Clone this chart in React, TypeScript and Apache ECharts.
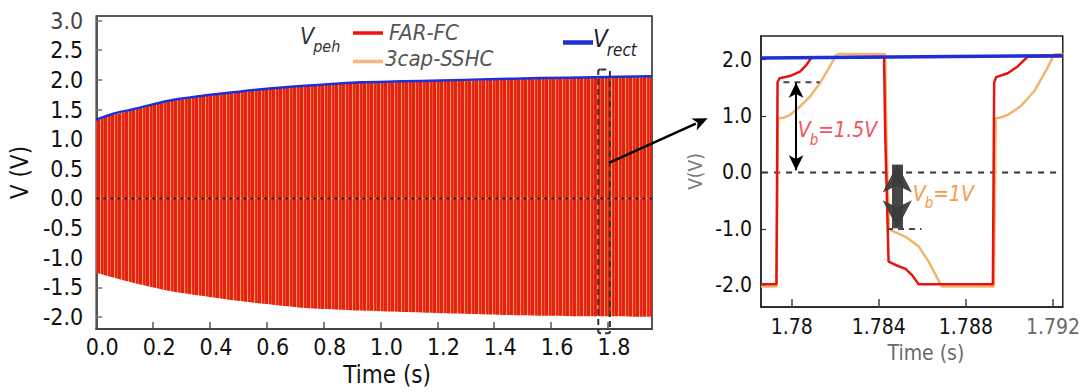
import React, { useEffect, useRef } from "react";
import * as echarts from "echarts";

// ---------- Left panel: full transient (envelope of the dense V_peh oscillation) ----------
const envTime = [0, 0.06, 0.13, 0.25, 0.37, 0.49, 0.6, 0.72, 0.84, 0.93, 1.08, 1.21, 1.38, 1.56, 1.75, 1.955];
const envTop = [1.31, 1.41, 1.49, 1.63, 1.72, 1.785, 1.84, 1.885, 1.925, 1.95, 1.965, 1.98, 2.0, 2.02, 2.035, 2.05];
const envBottom = [-1.25, -1.33, -1.42, -1.55, -1.64, -1.72, -1.78, -1.84, -1.87, -1.89, -1.915, -1.935, -1.955, -1.975, -1.985, -1.995];
const vrectLeft = [1.33, 1.43, 1.505, 1.645, 1.73, 1.795, 1.85, 1.895, 1.935, 1.96, 1.975, 1.99, 2.01, 2.03, 2.045, 2.06];
const xTicksLeft = [0, 0.2, 0.4, 0.6, 0.8, 1.0, 1.2, 1.4, 1.6, 1.8];
const yTicksLeft = [-2.0, -1.5, -1.0, -0.5, 0.0, 0.5, 1.0, 1.5, 2.0, 2.5, 3.0];

// ---------- Right panel: zoom 1.7786 s .. 1.7924 s ----------
const farT = [1.77859, 1.7793, 1.77935, 1.77944, 1.77992, 1.78038, 1.78068, 1.78091, 1.78424, 1.7843, 1.78445, 1.78477, 1.78523, 1.78553, 1.78583, 1.78924, 1.7893, 1.78939, 1.78992, 1.79038, 1.79083, 1.79245];
const farV = [-1.98, -1.98, 1.6, 1.67, 1.71, 1.79, 1.91, 2.04, 2.05, 0.6, -1.58, -1.64, -1.71, -1.82, -1.98, -1.98, 1.6, 1.69, 1.76, 1.88, 2.05, 2.06];
const sshcT = [1.77859, 1.7793, 1.77937, 1.77962, 1.77992, 1.78038, 1.78083, 1.78129, 1.78166, 1.78205, 1.7822, 1.78429, 1.78436, 1.78447, 1.78455, 1.78523, 1.78583, 1.78629, 1.78666, 1.78689, 1.78929, 1.78937, 1.78955, 1.78992, 1.79053, 1.79114, 1.79174, 1.79205, 1.79245];
const sshcV = [-2.02, -2.02, 0.96, 0.97, 1.02, 1.17, 1.34, 1.58, 1.82, 2.085, 2.1, 2.1, 0.5, -1.0, -1.02, -1.14, -1.31, -1.58, -1.85, -2.02, -2.02, 0.96, 0.97, 1.02, 1.18, 1.44, 1.85, 2.09, 2.1];
const vrectRightT = [1.77859, 1.79245];
const vrectRightV = [2.03, 2.07];
const xTicksRight = [1.78, 1.784, 1.788, 1.792];
const xTickLabelsRight = ["1.78", "1.784", "1.788", "1.792"];
const yTicksRight = [-2, -1, 0, 1, 2];

// annotation values
const vbHigh = { t: 1.7802, from: 0.04, to: 1.59, dashT: [1.77962, 1.78129], level: 1.6 };
const vbLow = { t: 1.78485, from: -0.99, to: 0.14, dashT: [1.78438, 1.78596], level: -1.0 };

const L = { xMin: 0, xMax: 1.955, yMin: -2.202, yMax: 3.077 };
const R = { xMin: 1.77859, xMax: 1.79245, yMin: -2.385, yMax: 2.42 };

const FONT = "'DejaVu Sans Condensed', 'DejaVu Sans', sans-serif";
const RED = "#e5140f";
const ORANGE = "#f2b56e";
const BLUE = "#1c2fd8";

let measureCtx: CanvasRenderingContext2D | null = null;
function textWidth(s: string, size: number, italic: boolean) {
  if (!measureCtx) measureCtx = document.createElement("canvas").getContext("2d");
  measureCtx!.font = `${italic ? "italic " : ""}${size}px ${FONT}`;
  return measureCtx!.measureText(s).width;
}

function makePattern() {
  const c = document.createElement("canvas");
  c.width = 7;
  c.height = 4;
  const ctx = c.getContext("2d")!;
  const cols = ["#e31f18", "#e31f18", "#f3a43e", "#e62a1c", "#e31f18", "#ee5236", "#e31f18"];
  cols.forEach((col, i) => {
    ctx.fillStyle = col;
    ctx.fillRect(i, 0, 1, 4);
  });
  return { image: c, repeat: "repeat", imageWidth: 7, imageHeight: 4 };
}

const zip = (a: number[], b: number[]) => a.map((x, i) => [x, b[i]]);

function buildOption() {
  const pattern = makePattern();
  return {
    animation: false,
    backgroundColor: "#ffffff",
    textStyle: { fontFamily: FONT },
    grid: [
      { left: 95, top: 16, width: 557, height: 316, show: true, borderColor: "#222", borderWidth: 1.5, backgroundColor: "transparent" },
      { left: 761, top: 36, width: 305, height: 271, show: true, borderColor: "#222", borderWidth: 1.5, backgroundColor: "transparent" },
    ],
    xAxis: [
      {
        type: "value", gridIndex: 0, min: L.xMin, max: L.xMax,
        axisLine: { show: true, onZero: false, lineStyle: { color: "#444", width: 2 } },
        axisTick: { show: true, inside: true, length: 7, customValues: xTicksLeft, lineStyle: { color: "#555", width: 1.5 } },
        axisLabel: { customValues: xTicksLeft, formatter: (v: number) => v.toFixed(1), fontSize: 23, color: "#111", fontFamily: FONT, margin: 6, padding: [0, 0, 0, 12] },
        splitLine: { show: false },
        name: "Time (s)", nameLocation: "middle", nameGap: 28,
        nameTextStyle: { fontSize: 24, color: "#111", fontFamily: FONT, padding: [0, 0, 0, 26] },
      },
      {
        type: "value", gridIndex: 1, min: R.xMin, max: R.xMax,
        axisLine: { show: true, onZero: false, lineStyle: { color: "#222", width: 1.5 } },
        axisTick: { show: true, inside: true, length: 8, customValues: xTicksRight, lineStyle: { color: "#444", width: 1.5 } },
        axisLabel: {
          customValues: xTicksRight,
          formatter: (v: number) => {
            const i = xTicksRight.findIndex((x) => Math.abs(x - v) < 1e-7);
            return i >= 0 ? xTickLabelsRight[i] : "";
          },
          color: (v: any) => (Math.abs(Number(v) - 1.792) < 1e-7 ? "#6a6a6a" : "#111"),
          fontSize: 21, fontFamily: FONT, margin: 9,
        },
        splitLine: { show: false },
        name: "Time (s)", nameLocation: "middle", nameGap: 35,
        nameTextStyle: { fontSize: 21, color: "#6a6a6a", fontFamily: FONT, padding: [0, 0, 0, 28] },
      },
    ],
    yAxis: [
      {
        type: "value", gridIndex: 0, min: L.yMin, max: L.yMax,
        axisLine: { show: true, onZero: false, lineStyle: { color: "#555", width: 2 } },
        axisTick: { show: true, inside: true, length: 6, customValues: yTicksLeft, lineStyle: { color: "#777", width: 1.5 } },
        axisLabel: {
          customValues: yTicksLeft, formatter: (v: number) => v.toFixed(1), fontSize: 23,
          color: (v: any) => (Number(v) > 2.9 ? "#444" : "#111"), fontFamily: FONT, margin: 13,
        },
        splitLine: { show: false },
        name: "V (V)", nameLocation: "middle", nameGap: 60, nameRotate: 90,
        nameTextStyle: { fontSize: 24, color: "#111", fontFamily: FONT },
      },
      {
        type: "value", gridIndex: 1, min: R.yMin, max: R.yMax,
        axisLine: { show: true, onZero: false, lineStyle: { color: "#222", width: 1.5 } },
        axisTick: { show: true, inside: true, length: 5, customValues: yTicksRight, lineStyle: { color: "#333", width: 1.2 } },
        axisLabel: { customValues: yTicksRight, formatter: (v: number) => v.toFixed(1), fontSize: 21, color: "#111", fontFamily: FONT, margin: 9 },
        splitLine: { show: false },
        name: "V(V)", nameLocation: "middle", nameGap: 57, nameRotate: 90,
        nameTextStyle: { fontSize: 19, color: "#777", fontFamily: FONT },
      },
    ],
    series: [
      // left: dense oscillation band (FAR-FC / 3cap-SSHC overlaid)
      { name: "FAR-FC top", type: "line", xAxisIndex: 0, yAxisIndex: 0, data: zip(envTime, envTop), smooth: 0.3, symbol: "none", lineStyle: { width: 0 }, areaStyle: { color: pattern, opacity: 1, origin: 0 }, z: 2, silent: true },
      { name: "FAR-FC bottom", type: "line", xAxisIndex: 0, yAxisIndex: 0, data: zip(envTime, envBottom), smooth: 0.3, symbol: "none", lineStyle: { width: 0 }, areaStyle: { color: pattern, opacity: 1, origin: 0 }, z: 2, silent: true },
      { name: "zero L", type: "line", xAxisIndex: 0, yAxisIndex: 0, data: [[L.xMin, 0], [L.xMax, 0]], symbol: "none", lineStyle: { color: "#111", width: 1.3, type: [3, 4] }, z: 3, silent: true },
      { name: "Vrect L", type: "line", xAxisIndex: 0, yAxisIndex: 0, data: zip(envTime, vrectLeft), smooth: 0.3, symbol: "none", lineStyle: { color: BLUE, width: 2.5 }, z: 4, silent: true },
      // right: zoomed waveforms
      { name: "zero R", type: "line", xAxisIndex: 1, yAxisIndex: 1, data: [[R.xMin + 0.00005, 0], [R.xMax - 0.00015, 0]], symbol: "none", lineStyle: { color: "#333", width: 2, type: [6, 6] }, z: 2, silent: true },
      { name: "3cap-SSHC", type: "line", xAxisIndex: 1, yAxisIndex: 1, data: zip(sshcT, sshcV), symbol: "none", lineStyle: { color: ORANGE, width: 2.5 }, z: 3, silent: true },
      { name: "FAR-FC", type: "line", xAxisIndex: 1, yAxisIndex: 1, data: zip(farT, farV), symbol: "none", lineStyle: { color: RED, width: 2.5 }, z: 4, silent: true },
      { name: "Vrect R", type: "line", xAxisIndex: 1, yAxisIndex: 1, data: zip(vrectRightT, vrectRightV), symbol: "none", lineStyle: { color: BLUE, width: 3.5 }, z: 5, silent: true },
      {
        name: "Vb high", type: "line", xAxisIndex: 1, yAxisIndex: 1,
        data: vbHigh.dashT.map((t) => [t, vbHigh.level]), symbol: "none",
        lineStyle: { color: "#444", width: 2, type: [6, 5] }, z: 6, silent: true,
        markLine: {
          silent: true, symbol: ["arrow", "arrow"], symbolSize: [11, 15], label: { show: false },
          lineStyle: { color: "#000", width: 2, type: "solid" },
          data: [[{ coord: [vbHigh.t, vbHigh.from] }, { coord: [vbHigh.t, vbHigh.to] }]],
        },
      },
      {
        name: "Vb low", type: "line", xAxisIndex: 1, yAxisIndex: 1,
        data: vbLow.dashT.map((t) => [t, vbLow.level]), symbol: "none",
        lineStyle: { color: "#444", width: 2, type: [6, 5] }, z: 6, silent: true,
        markLine: {
          silent: true, symbol: ["arrow", "arrow"], symbolSize: [22, 28], label: { show: false },
          lineStyle: { color: "#3c3c3c", width: 11, type: "solid", opacity: 0.95 },
          data: [[{ coord: [vbLow.t, vbLow.from] }, { coord: [vbLow.t, vbLow.to] }]],
        },
      },
    ],
  };
}

function subLabel(x: number, y: number, main: string, sub: string, rest: string, color: string, size: number, subSize: number) {
  const w1 = textWidth(main, size, true);
  const w2 = textWidth(sub, subSize, true);
  const base = { fontFamily: FONT, fontStyle: "italic", fill: color, align: "left", verticalAlign: "middle" };
  const els: any[] = [
    { type: "text", x, y, z: 50, style: { ...base, text: main, fontSize: size } },
    { type: "text", x: x + w1 - 1, y: y + size * 0.45, z: 50, style: { ...base, text: sub, fontSize: subSize } },
  ];
  if (rest) els.push({ type: "text", x: x + w1 + w2 - 1, y, z: 50, style: { ...base, text: rest, fontSize: size } });
  return els;
}

function buildGraphics(p0: (t: number, v: number) => number[], p1: (t: number, v: number) => number[]) {
  const els: any[] = [];
  // dashed window on the left panel
  const a = p0(1.766, 2.174);
  const b = p0(1.807, -2.274);
  els.push({
    type: "rect", z: 60,
    shape: { x: a[0], y: a[1], width: b[0] - a[0], height: b[1] - a[1], r: 2 },
    style: { fill: "transparent", stroke: "#333", lineWidth: 2, lineDash: [6, 4] },
  });
  // connector arrow
  const s = p0(1.8035, 0.6);
  const e = p1(1.77614, 0.96);
  const dx = e[0] - s[0], dy = e[1] - s[1];
  const len = Math.hypot(dx, dy);
  const ux = dx / len, uy = dy / len;
  const hl = 15, hw = 6.5;
  const bx = e[0] - ux * hl, by = e[1] - uy * hl;
  els.push({ type: "line", z: 60, shape: { x1: s[0], y1: s[1], x2: bx + ux * 2, y2: by + uy * 2 }, style: { stroke: "#000", lineWidth: 2.5 } });
  els.push({
    type: "polygon", z: 60,
    shape: { points: [[e[0], e[1]], [bx - uy * hw, by + ux * hw], [bx + ux * 4, by + uy * 4], [bx + uy * hw, by - ux * hw]] },
    style: { fill: "#000" },
  });
  // Vb labels
  const t1 = p1(1.78028, 0.75);
  els.push(...subLabel(t1[0], t1[1], "V", "b", "=1.5V", "#f2545b", 21, 15));
  const t2 = p1(1.78556, -0.38);
  els.push(...subLabel(t2[0], t2[1], "V", "b", "=1V", "#fa9a4a", 21, 15));

  // legend
  els.push(...subLabel(300, 36, "V", "peh", "", "#333", 23, 16));
  els.push({ type: "line", z: 50, shape: { x1: 353, y1: 33, x2: 383, y2: 33 }, style: { stroke: "#f01010", lineWidth: 3.5 } });
  els.push({ type: "text", x: 389, y: 32, z: 50, style: { text: "FAR-FC", fontSize: 22, fontStyle: "italic", fontFamily: FONT, fill: "#555", align: "left", verticalAlign: "middle" } });
  els.push({ type: "line", z: 50, shape: { x1: 353, y1: 61.5, x2: 383, y2: 61.5 }, style: { stroke: "#f7b680", lineWidth: 3.5 } });
  els.push({ type: "text", x: 385, y: 58, z: 50, style: { text: "3cap-SSHC", fontSize: 22, fontStyle: "italic", fontFamily: FONT, fill: "#555", align: "left", verticalAlign: "middle" } });
  els.push({ type: "line", z: 50, shape: { x1: 563, y1: 42.5, x2: 593, y2: 42.5 }, style: { stroke: BLUE, lineWidth: 4.5 } });
  els.push(...subLabel(593, 39, "V", "rect", "", "#222", 24, 17));
  return els;
}

export default function App() {
  const ref = useRef<HTMLDivElement>(null);
  useEffect(() => {
    const chart = echarts.init(ref.current!, null, { renderer: "svg" });
    chart.setOption(buildOption() as any);
    const p0 = (t: number, v: number) => chart.convertToPixel({ gridIndex: 0 } as any, [t, v]) as number[];
    const p1 = (t: number, v: number) => chart.convertToPixel({ gridIndex: 1 } as any, [t, v]) as number[];
    chart.setOption({ graphic: buildGraphics(p0, p1) } as any);
    return () => chart.dispose();
  }, []);
  return (
    <div
      ref={ref}
      style={{ position: "fixed", left: 0, top: 0, width: 1083, height: 392, background: "#fff" }}
    />
  );
}
